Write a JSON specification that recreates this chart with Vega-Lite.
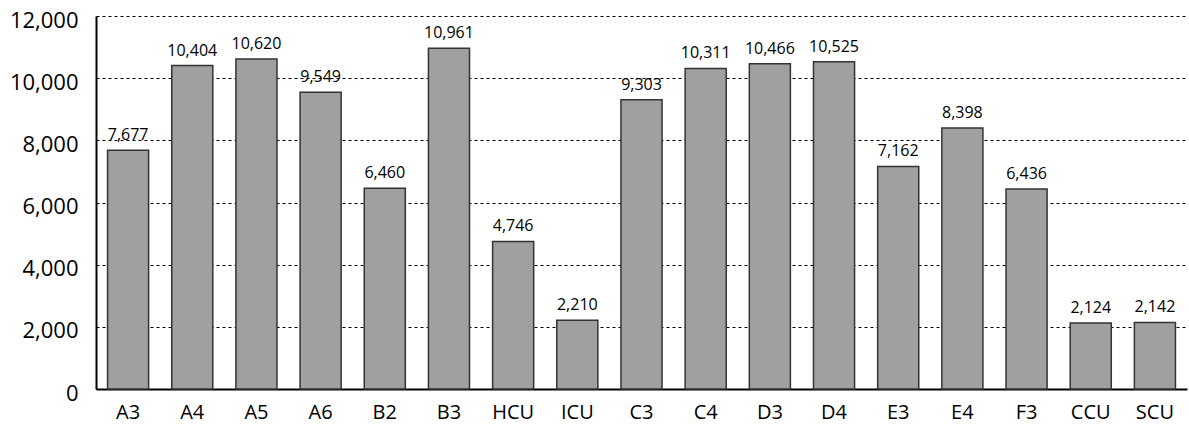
{
  "$schema": "https://vega.github.io/schema/vega-lite/v6.json",
  "width": 1091,
  "height": 373,
  "autosize": {"type": "none"},
  "padding": {"left": 96, "top": 16, "right": 2, "bottom": 36},
  "background": "white",
  "config": {
    "view": {"stroke": null},
    "font": "Open Sans"
  },
  "data": {
    "values": [
      {"unit": "A3", "value": 7677},
      {"unit": "A4", "value": 10404},
      {"unit": "A5", "value": 10620},
      {"unit": "A6", "value": 9549},
      {"unit": "B2", "value": 6460},
      {"unit": "B3", "value": 10961},
      {"unit": "HCU", "value": 4746},
      {"unit": "ICU", "value": 2210},
      {"unit": "C3", "value": 9303},
      {"unit": "C4", "value": 10311},
      {"unit": "D3", "value": 10466},
      {"unit": "D4", "value": 10525},
      {"unit": "E3", "value": 7162},
      {"unit": "E4", "value": 8398},
      {"unit": "F3", "value": 6436},
      {"unit": "CCU", "value": 2124},
      {"unit": "SCU", "value": 2142}
    ]
  },
  "encoding": {
    "x": {
      "field": "unit", "type": "nominal", "sort": null,
      "scale": {"paddingInner": 0.36, "paddingOuter": 0.18},
      "axis": {
        "title": null, "labelAngle": 0, "labelFontSize": 20, "labelColor": "#000",
        "domainColor": "#000", "domainWidth": 2, "ticks": false, "labelPadding": 13
      }
    },
    "y": {
      "field": "value", "type": "quantitative",
      "scale": {"domain": [0, 12000]},
      "axis": {
        "title": null, "values": [0, 2000, 4000, 6000, 8000, 10000, 12000],
        "format": ",.0f", "labelFontSize": 22, "labelColor": "#000",
        "domainColor": "#000", "domainWidth": 2, "ticks": false, "labelPadding": 18,
        "labelOffset": 4,
        "grid": true, "gridColor": "#000", "gridDash": [3, 3], "gridWidth": 1
      }
    }
  },
  "layer": [
    {
      "mark": {"type": "bar", "color": "#a0a0a0", "stroke": "#333", "strokeWidth": 1.5}
    },
    {
      "mark": {"type": "text", "baseline": "alphabetic", "dy": -10, "fontSize": 16, "color": "#000"},
      "encoding": {"text": {"field": "value", "type": "quantitative", "format": ",.0f"}}
    }
  ]
}
